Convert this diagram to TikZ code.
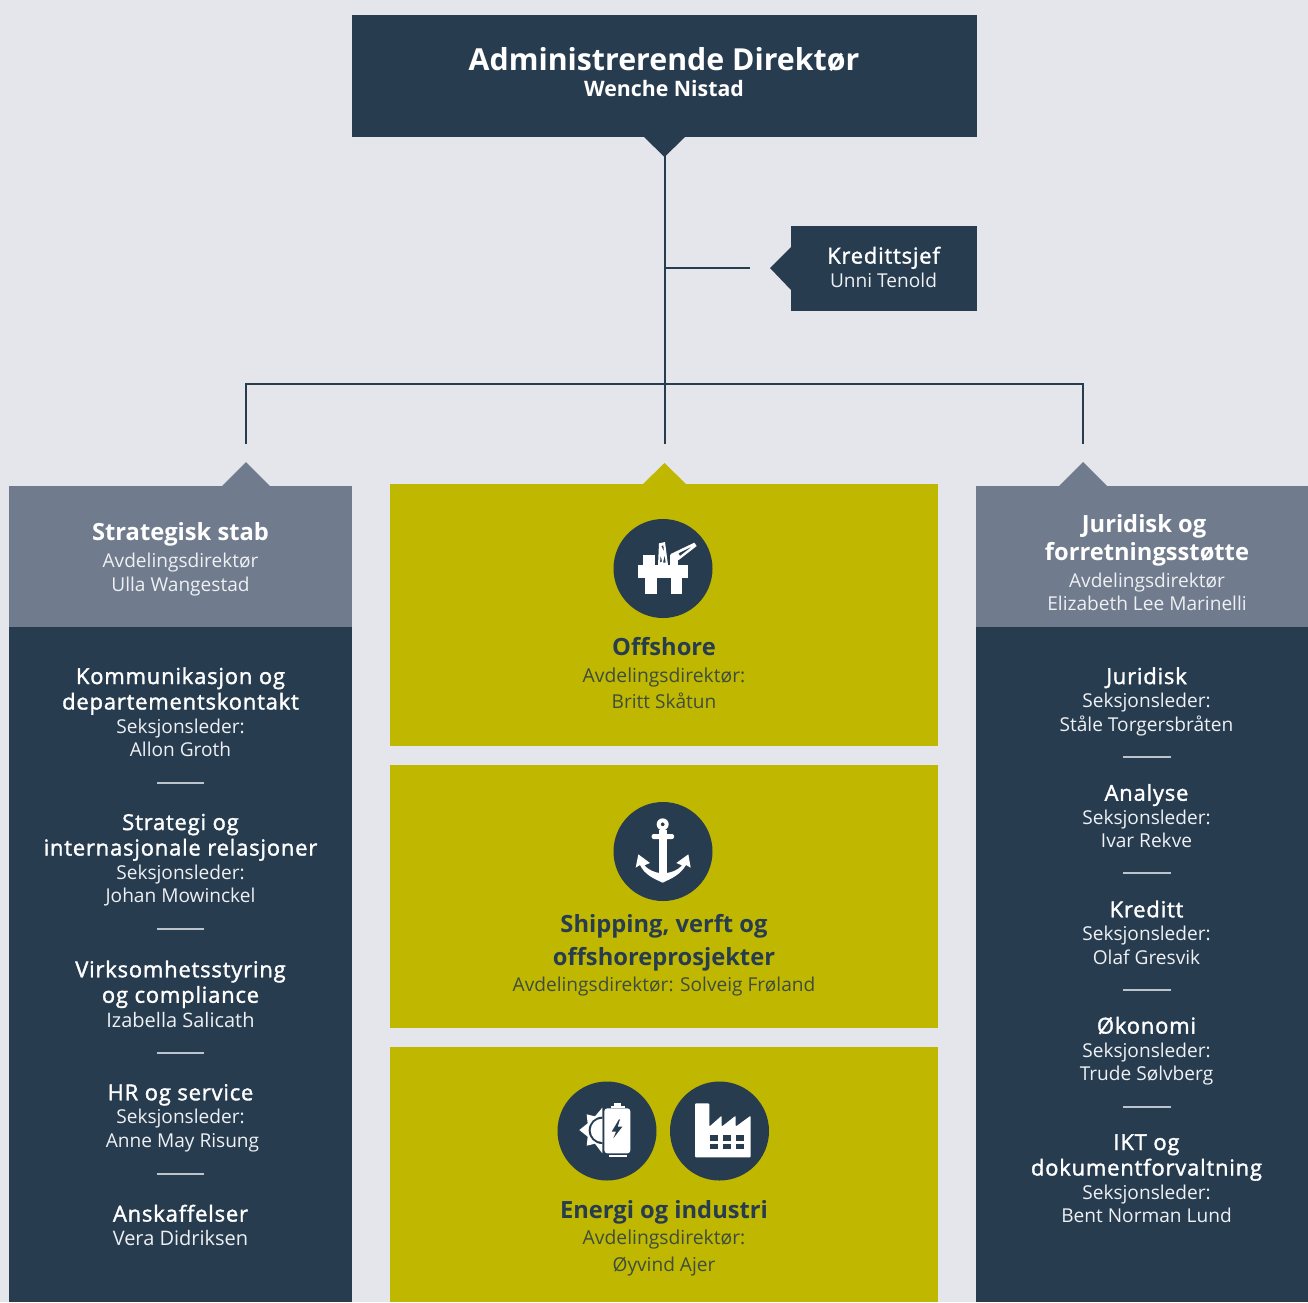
\documentclass[tikz,border=0pt]{standalone}
\usepackage{fontspec}
\setmainfont{Open Sans}
\newfontfamily\semi[LetterSpace=3.6,FakeBold=1.6,Ligatures=NoCommon]{Open Sans}
\definecolor{pagebg}{HTML}{E4E6EC}
\definecolor{navy}{HTML}{283C50}
\definecolor{slate}{HTML}{707C8E}
\definecolor{olive}{HTML}{BFB700}
\definecolor{oliveText}{HTML}{3F4D3E}
\definecolor{soft}{HTML}{EEF0F3}
\newcommand{\ttl}[1]{{\fontsize{22}{25}\selectfont\semi\color{white}#1}}
\newcommand{\ttb}[1]{{\fontsize{23.7}{25}\selectfont\bfseries #1}}
\newcommand{\bigger}[1]{{\fontsize{20}{23.5}\selectfont #1}}
\newcommand{\avd}[1]{{\fontsize{19.3}{23.5}\selectfont #1}}
\tikzset{
  x=1pt,y=-1pt,
  wire/.style={draw=navy,line width=2pt},
  sep/.style={draw=pagebg!80!navy,line width=1.2pt},
  lbl/.style={align=center,inner sep=0pt,font=\fontsize{19.1}{23.5}\selectfont,text=soft},
  lblo/.style={lbl,text=oliveText},
  disc/.style={circle,fill=navy,minimum size=99pt,inner sep=0pt},
  ico/.style={fill=white,draw=none},
  icod/.style={fill=navy,draw=none},
}
\begin{document}
\begin{tikzpicture}
\useasboundingbox (0,0) rectangle (1308,1302);
\fill[pagebg] (0,0) rectangle (1308,1302);
% top box
\fill[navy] (352,15) rectangle (977,137);
\fill[navy] (644,137) -- (685,137) -- (664.5,157) -- cycle;
\coordinate (ceotip) at (664.5,155);
\node[lbl,text=white] (ceo) at (664,72) {{\fontsize{30.3}{34}\selectfont\bfseries Administrerende Direktør}\\[3pt]{\fontsize{21.3}{25}\selectfont\bfseries Wenche Nistad}};
% credit
\fill[navy] (791,226) rectangle (977,311);
\fill[navy] (791,247) -- (770,268) -- (791,290) -- cycle;
\node[lbl] (kred) at (883.5,267) {\ttl{Kredittsjef}\\Unni Tenold};
\coordinate (kredend) at (750,268);
\coordinate (kredjoin) at (664.5,268);
% wires
\coordinate (busl) at (246,384);
\coordinate (busr) at (1083,384);
\coordinate (busm) at (664.5,384);
\coordinate (dropl) at (246,444);
\coordinate (dropm) at (664.5,444);
\coordinate (dropr) at (1083,444);
\draw[wire] (ceotip) -- (dropm);
\draw[wire] (kredjoin) -- (kredend);
\draw[wire] (dropl) -- (busl) -- (busr) -- (dropr);
% left column
\fill[slate] (9,486) rectangle (352,627);
\fill[slate] (222,486) -- (246,462) -- (270,486) -- cycle;
\fill[navy] (9,627) rectangle (352,1302);
\node[lbl] (stab) at (180.5,559) {{\color{white}\ttb{Strategisk stab}}\\[4pt]Avdelingsdirektør\\Ulla Wangestad};
\node[lbl] (kom) at (180.5,712) {\ttl{Kommunikasjon og}\\[2pt]\ttl{departementskontakt}\\Seksjonsleder:\\Allon Groth};
\node[lbl] (stra) at (180.5,860) {\ttl{Strategi og}\\[2pt]\ttl{internasjonale relasjoner}\\Seksjonsleder:\\Johan Mowinckel};
\node[lbl] (virk) at (180.5,994) {\ttl{Virksomhetsstyring}\\[2pt]\ttl{og compliance}\\[1pt]\bigger{Izabella Salicath}};
\node[lbl] (hr) at (180.5,1118) {\ttl{HR og service}\\Seksjonsleder:\\\hspace*{4pt}Anne May Risung};
\node[lbl] (ansk) at (180.5,1225) {\ttl{Anskaffelser}\\\bigger{Vera Didriksen}};
\foreach \y in {783,929,1053,1174} \draw[sep] (157,\y) -- (204,\y);
% right column
\fill[slate] (976,486) rectangle (1308,627);
\fill[slate] (1059,486) -- (1083,462) -- (1107,486) -- cycle;
\fill[navy] (976,627) rectangle (1308,1302);
\node[lbl] (jur) at (1147,562.5) {{\color{white}\ttb{Juridisk og\hspace*{6pt}}}\\[4pt]{\color{white}\ttb{forretningsstøtte}}\\[3pt]Avdelingsdirektør\\Elizabeth Lee Marinelli};
\node[lbl] (j1) at (1146.5,701.5) {\ttl{Juridisk}\\Seksjonsleder:\\Ståle Torgersbråten};
\node[lbl] (j2) at (1146.5,816) {\ttl{Analyse}\\Seksjonsleder:\\Ivar Rekve};
\node[lbl] (j3) at (1146.5,932.5) {\ttl{Kreditt}\\Seksjonsleder:\\Olaf Gresvik};
\node[lbl] (j4) at (1146.5,1051) {\ttl{Økonomi}\\Seksjonsleder:\\Trude Sølvberg};
\node[lbl] (j5) at (1146.5,1178.5) {\ttl{IKT og}\\[2pt]\ttl{dokumentforvaltning}\\Seksjonsleder:\\Bent Norman Lund};
\foreach \y in {757,873,990,1107} \draw[sep] (1123,\y) -- (1171,\y);
% middle
\fill[olive] (390,484) rectangle (938,746);
\fill[olive] (643,484) -- (664.5,463) -- (686,484) -- cycle;
\fill[olive] (390,765) rectangle (938,1028);
\fill[olive] (390,1047) rectangle (938,1302);
\node[lblo] (off) at (664,673.5) {{\color{navy}\ttb{Offshore}}\\[3pt]\avd{Avdelingsdirektør:\hspace*{3pt}}\\[3pt]Britt Skåtun};
\node[lblo] (ship) at (664,955) {{\color{navy}\ttb{Shipping, verft og}}\\[9pt]{\color{navy}\ttb{offshoreprosjekter}}\\[2pt]Avdelingsdirektør: Solveig Frøland};
\node[lblo] (energi) at (664,1238) {{\color{navy}\ttb{Energi og industri}}\\[3pt]\avd{Avdelingsdirektør:\hspace*{3pt}}\\[3pt]Øyvind Ajer};
% offshore icon
\node[disc] (d1) at (663,568.5) {};
\begin{scope}[shift={(600,510)},x=1pt/3,y=-1pt/3]
\fill[ico] (115,165) rectangle (263,205);
\fill[ico] (135,205) rectangle (170,253);
\fill[ico] (212,205) rectangle (247,253);
\fill[ico] (130,135) rectangle (165,165);
\fill[ico] (210,135) rectangle (233,165);
\fill[ico,even odd rule] (177,100) -- (195,96) -- (204,165) -- (174,165) -- cycle
  (184,108) -- (190,106) -- (192,125) -- cycle
  (182,135) -- (186,155) -- (180,158) -- cycle
  (194,135) -- (197,158) -- (189,158) -- cycle;
\fill[ico,even odd rule] (212,132) -- (283,98) -- (290,108) -- (236,150) -- (212,155) -- cycle
  (235,130) -- (278,108) -- (240,138) -- cycle;
\end{scope}
% anchor icon
\node[disc] (d2) at (663,851.5) {};
\begin{scope}[shift={(600,795)},x=1pt/3,y=-1pt/3]
\fill[ico,even odd rule] (188,88) circle[radius=18] (188,88) circle[radius=6];
\fill[ico,rounded corners=2pt] (155,117) rectangle (222,132);
\fill[ico] (178,104) rectangle (200,240);
\fill[ico] (115,178) -- (150,204) -- (133,211) .. controls (145,225) and (165,232) .. (178,234) -- (200,234) .. controls (215,232) and (235,225) .. (246,211) -- (229,204) -- (265,178) -- (272,218) -- (258,210) .. controls (240,240) and (215,250) .. (188,263) .. controls (160,250) and (135,240) .. (120,210) -- (107,218) -- cycle;
\end{scope}
% energy + factory icons
\node[disc] (d3) at (607,1131) {};
\node[disc] (d4) at (719.5,1131) {};
\begin{scope}[shift={(545,1075)},x=1pt/3,y=-1pt/3]
% sun
\fill[ico] (172,98) -- (150,124) -- (125,118) -- (128,145) -- (103,165) -- (128,185) -- (125,212) -- (150,206) -- (172,235) -- cycle;
\fill[icod] (172,125) arc[start angle=-90,end angle=-270,radius=41] -- cycle;
\fill[ico] (172,131) arc[start angle=-90,end angle=-270,radius=35] -- cycle;
% battery
\fill[ico,rounded corners=3pt] (178,100) rectangle (256,235);
\fill[ico] (197,92) rectangle (240,100);
\fill[ico] (208,83) rectangle (228,92);
\fill[ico] (192,240) rectangle (245,247);
\fill[icod] (222,133) -- (200,170) -- (213,170) -- (205,190) -- (232,155) -- (218,155) -- (225,133) -- cycle;
% factory
\fill[ico,rounded corners=1pt] (450,85) -- (493,85) -- (493,155) -- (530,122) -- (530,155) -- (572,122) -- (572,155) -- (617,122) -- (617,247) -- (450,247) -- cycle;
\foreach \a in {495,533,572} {
  \fill[icod] (\a,180) rectangle ++(25,17);
  \fill[icod] (\a,207) rectangle ++(25,16);
}
\end{scope}
\end{tikzpicture}
\end{document}
